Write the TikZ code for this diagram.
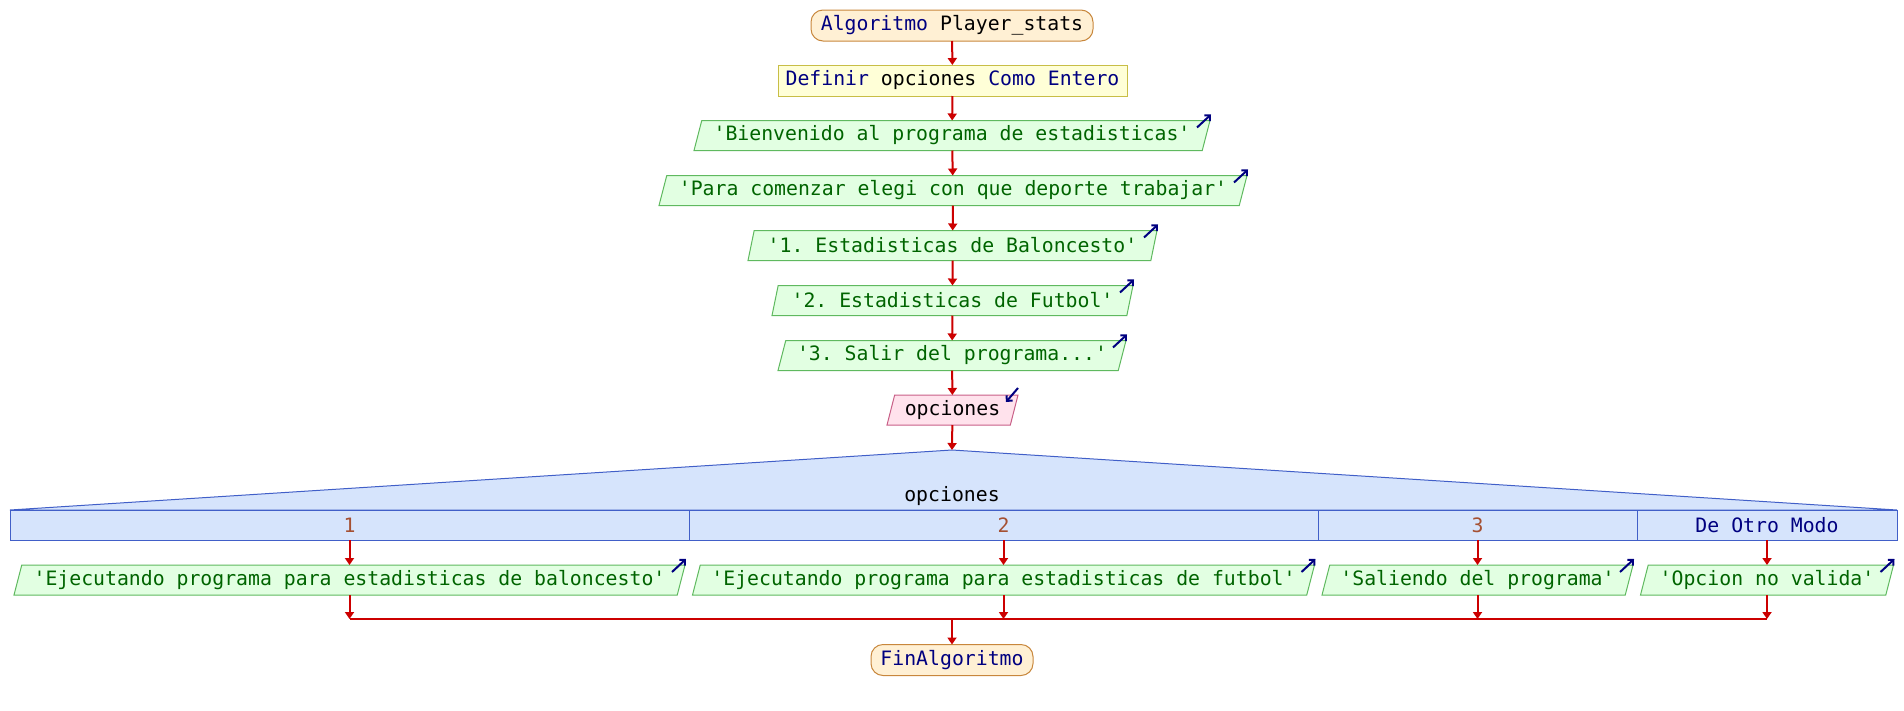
\documentclass[tikz,border=0pt]{standalone}
\usepackage{fontspec}
\setmonofont{DejaVu Sans Mono}
\usetikzlibrary{shapes.geometric,arrows.meta,calc}
\definecolor{flowred}{RGB}{204,0,0}
\definecolor{kwnavy}{RGB}{0,0,128}
\definecolor{strgreen}{RGB}{0,100,0}
\definecolor{numbrown}{RGB}{165,80,50}
\definecolor{termfill}{RGB}{255,240,212}
\definecolor{termdraw}{RGB}{200,135,60}
\definecolor{deffill}{RGB}{255,255,215}
\definecolor{defdraw}{RGB}{200,190,70}
\definecolor{outfill}{RGB}{226,255,226}
\definecolor{outdraw}{RGB}{95,185,95}
\definecolor{infill}{RGB}{255,226,236}
\definecolor{indraw}{RGB}{200,95,135}
\definecolor{swfill}{RGB}{214,228,252}
\definecolor{swdraw}{RGB}{65,95,200}
\begin{document}
\begin{tikzpicture}[x=1pt,y=-1pt,
  font=\ttfamily\fontsize{19.8}{24}\selectfont,
  every node/.style={outer sep=0pt},
  flow/.style={draw=flowred, line width=2pt, -{Triangle[length=7pt,width=9pt]}},
  flowline/.style={draw=flowred, line width=2pt},
  term/.style={draw=termdraw, fill=termfill, line width=1pt, rounded corners=12pt, minimum height=31pt, inner xsep=0pt, text=kwnavy},
  defbox/.style={draw=defdraw, fill=deffill, line width=1pt, minimum height=31pt, inner xsep=0pt},
  para/.style={trapezium, trapezium left angle=68.2, trapezium right angle=111.8, trapezium stretches body,
      line width=1pt, minimum height=30pt, inner xsep=2pt, inner ysep=0pt},
  outbox/.style={para, draw=outdraw, fill=outfill, text=strgreen},
  inbox/.style={para, draw=indraw, fill=infill, text=black},
  icon/.style={draw=kwnavy, line width=2pt, -{Straight Barb[length=4pt,width=8pt,line width=2pt]}},
  casebox/.style={draw=swdraw, fill=swfill, line width=1pt, minimum height=30pt, inner sep=0pt}
]
\useasboundingbox (0,0) rectangle (1904,710);

% top sequence
\node[term, minimum width=282pt] (alg) at (952,25.5) {Algoritmo \textcolor{black}{Player\_stats}};
\node[defbox, minimum width=349pt] (def) at (952.5,80.5) {\textcolor{kwnavy}{Definir} opciones \textcolor{kwnavy}{Como Entero}};
\node[outbox, minimum width=516pt] (bien) at (952,135.5) {'Bienvenido al programa de estadisticas'};
\node[outbox, minimum width=588pt] (para) at (953,190.5) {'Para comenzar elegi con que deporte trabajar'};
\node[outbox, minimum width=409pt] (op1) at (952.5,245.5) {'1. Estadisticas de Baloncesto'};
\node[outbox, minimum width=361pt] (op2) at (952.5,300.5) {'2. Estadisticas de Futbol'};
\node[outbox, minimum width=348pt] (op3) at (952,355.5) {'3. Salir del programa...'};
\node[inbox, minimum width=131pt] (inp) at (952.5,410) {opciones};

% switch
\coordinate (apex) at (952,450);
\coordinate (swl) at (10,510);
\coordinate (swr) at (1897,510);
\path[draw=swdraw, fill=swfill, line width=1pt] (swl) -- (apex) -- (swr) -- cycle;
\node[casebox, minimum width=679pt] (c1) at (349.5,525) {\textcolor{numbrown}{1}};
\node[casebox, minimum width=629pt] (c2) at (1003.5,525) {\textcolor{numbrown}{2}};
\node[casebox, minimum width=319pt] (c3) at (1477.5,525) {\textcolor{numbrown}{3}};
\node[casebox, minimum width=260pt] (c4) at (1767,525) {\textcolor{kwnavy}{De Otro Modo}};
\node (swlabel) at (952,496) {opciones};

% case outputs
\node[outbox, minimum width=671pt] (o1) at (349.5,580) {'Ejecutando programa para estadisticas de baloncesto'};
\node[outbox, minimum width=622pt] (o2) at (1003.5,580) {'Ejecutando programa para estadisticas de futbol'};
\node[outbox, minimum width=311pt] (o3) at (1477.5,580) {'Saliendo del programa'};
\node[outbox, minimum width=253pt] (o4) at (1767,580) {'Opcion no valida'};

\node[term, minimum width=162pt] (fin) at (952,660) {FinAlgoritmo};

% join coordinates
\coordinate (j1) at (349.5,619);
\coordinate (j2) at (1003.5,619);
\coordinate (j3) at (1477.5,619);
\coordinate (j4) at (1767,619);
\coordinate (jm) at (952,619);

% flow arrows
\draw[flow] (alg) -- (def);
\draw[flow] (def) -- (bien);
\draw[flow] (bien) -- (para);
\draw[flow] (para) -- (op1);
\draw[flow] (op1) -- (op2);
\draw[flow] (op2) -- (op3);
\draw[flow] (op3) -- (inp);
\draw[flow] (inp) -- (apex);
\draw[flow] (c1) -- (o1);
\draw[flow] (c2) -- (o2);
\draw[flow] (c3) -- (o3);
\draw[flow] (c4) -- (o4);
\draw[flow] (o1) -- (j1);
\draw[flow] (o2) -- (j2);
\draw[flow] (o3) -- (j3);
\draw[flow] (o4) -- (j4);
\draw[flowline] (j1) -- (j4);
\draw[flow] (jm) -- (fin);

% output / input icons
\foreach \n in {bien,para,op1,op2,op3,o1,o2,o3,o4}{
  \draw[icon] ($(\n.top right corner)+(-13,7)$) -- ($(\n.top right corner)+(1,-6)$);
}
\draw[icon] ($(inp.top right corner)+(0,-7)$) -- ($(inp.top right corner)+(-12,7)$);
\end{tikzpicture}
\end{document}
